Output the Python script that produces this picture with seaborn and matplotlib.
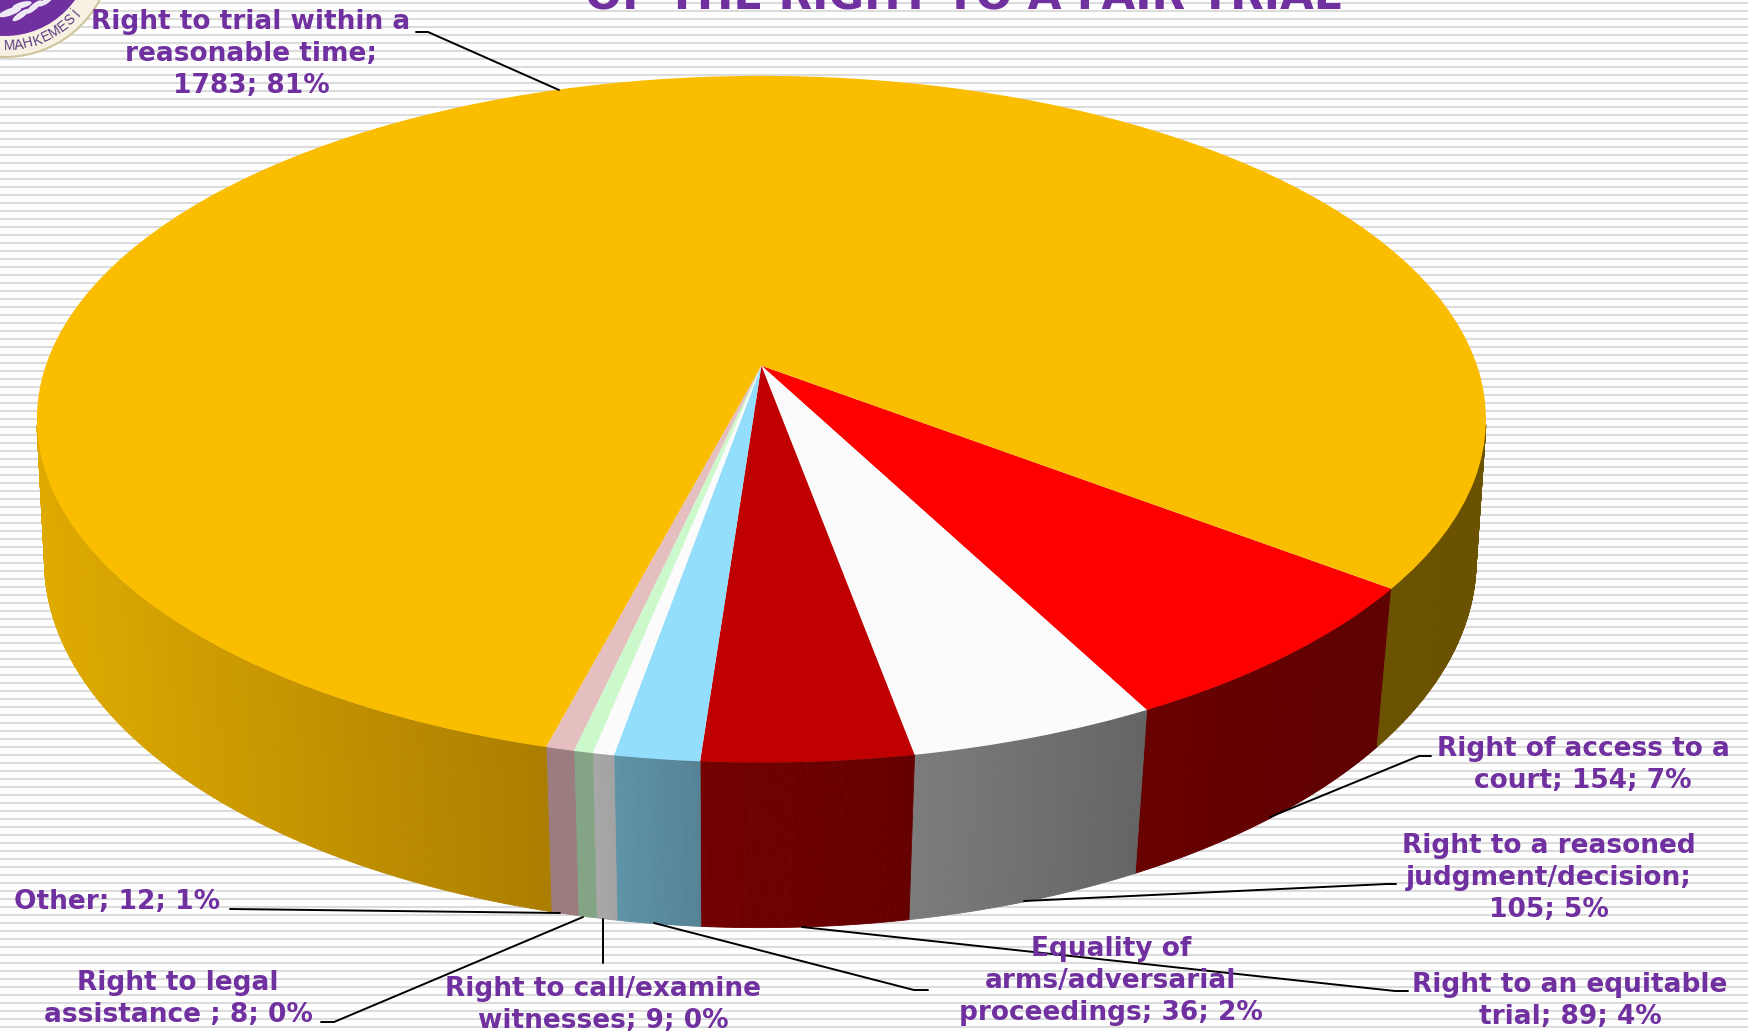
import numpy as np
import matplotlib
matplotlib.use("Agg")
import matplotlib.pyplot as plt
import matplotlib.transforms as mtransforms
from matplotlib.patches import Circle, Ellipse
import seaborn as sns

# Slices, clockwise from the right-hand edge of the big yellow slice
categories = ["Right of access to a court", "Right to a reasoned judgment/decision",
              "Right to an equitable trial", "Equality of arms/adversarial proceedings",
              "Right to call/examine witnesses", "Right to legal assistance", "Other",
              "Right to trial within a reasonable time"]
counts = [154, 105, 89, 36, 9, 8, 12, 1783]
percents = [7, 5, 4, 2, 0, 0, 1, 81]

top_colors = ["#FE0000", "#FBFBFB", "#C00000", "#93DDFD", "#FBFBFB", "#CCF9CC", "#E5BEBF", "#FBBD00"]
# wall colour at left and right end of each slice (yellow wall handled apart)
wall_left = ["#680000", "#7C7C7C", "#720000", "#5F93A8", "#A8A8A8", "#84A585", "#9B7D80", "#AC7E00"]
wall_right = ["#5E0000", "#646464", "#650000", "#568295", "#A2A2A2", "#84A585", "#9B7D80", "#DEAA00"]

# label text, centre and leader line, in picture pixels
label_text = ["Right of access to a\ncourt; 154; 7%",
              "Right to a reasoned\njudgment/decision;\n105; 5%",
              "Right to an equitable\ntrial; 89; 4%",
              "Equality of\narms/adversarial\nproceedings; 36; 2%",
              "Right to call/examine\nwitnesses; 9; 0%",
              "Right to legal\nassistance ; 8; 0%",
              "Other; 12; 1%",
              "Right to trial within a\nreasonable time;\n1783; 81%"]
label_x = [1583, 1549, 1570, 1111, 603, 178, 117, 251]
label_y = [765, 878, 1001, 981, 1005, 999, 902, 54]
leaders = [[(1270, 817), (1419, 756), (1431, 756)],
           [(1024, 901), (1387, 884), (1396, 884)],
           [(802, 927), (1395, 991), (1408, 991)],
           [(654, 923), (914, 990), (928, 990)],
           [(603, 919), (603, 963)],
           [(583, 917), (334, 1022), (321, 1022)],
           [(560, 913), (230, 909)],
           [(559, 90), (428, 32), (416, 32)]]

START_ANGLE = -37.1
PURPLE = "#7030A0"


class Tilt(mtransforms.Transform):
    """Unit circle to picture pixels, with the perspective of the 3D pie."""
    input_dims = 2
    output_dims = 2

    def __init__(self, cx, cy, rx, ry, k):
        super().__init__()
        self.cx, self.cy, self.rx, self.ry, self.k = cx, cy, rx, ry, k

    def transform_non_affine(self, xy):
        xy = np.asarray(xy)
        w = 1 + self.k * xy[:, 1]
        return np.column_stack([self.cx + self.rx * xy[:, 0] / w,
                                self.cy - self.ry * xy[:, 1] / w])


def mix(c1, c2, t):
    a = np.array(matplotlib.colors.to_rgb(c1))
    b = np.array(matplotlib.colors.to_rgb(c2))
    return tuple(a + (b - a) * t)


def main():
    sns.set_theme(style="white")
    fig = plt.figure(figsize=(17.48, 10.33), dpi=100, facecolor="white")
    ax = fig.add_axes([0, 0, 1, 1])

    top = Tilt(761.4, 365.7, 715.7, 335.0, 0.1558)
    bottom = Tilt(760.3, 509.9, 709.0, 360.1, 0.138)

    # Side wall, one thin strip per step; the back of the ring is never seen
    edges = START_ANGLE - np.cumsum([0] + counts) / sum(counts) * 360
    for i in range(len(counts)):
        steps = max(2, int((edges[i] - edges[i + 1]) / 0.25))
        angles = np.radians(np.linspace(edges[i], edges[i + 1], steps + 1))
        ring = np.column_stack([np.cos(angles), np.sin(angles)])
        upper = top.transform_non_affine(ring)
        lower = bottom.transform_non_affine(ring)
        for j in range(steps):
            if ring[j, 1] > -0.17 or ring[j + 1, 1] > -0.17:
                continue
            if i == 7:
                # yellow wall: dark on the right, light fading on the left
                x = upper[j, 0]
                col = "#6B5200" if x > 761 else mix("#DEAA00", "#AC7E00", np.clip((x - 50) / 490, 0, 1))
            else:
                col = mix(wall_right[i], wall_left[i], (j + 0.5) / steps)
            xs = [upper[j, 0], upper[j + 1, 0], lower[j + 1, 0], lower[j, 0]]
            ys = [upper[j, 1], upper[j + 1, 1], lower[j + 1, 1], lower[j, 1]]
            ax.fill(xs, ys, facecolor=col, edgecolor=col, linewidth=0.6, zorder=2)

    # Pie top
    wedges, _ = ax.pie(counts, startangle=START_ANGLE, counterclock=False,
                       colors=sns.color_palette(top_colors),
                       wedgeprops={"linewidth": 0})
    for w in wedges:
        w.set_transform(top + ax.transData)
        w.set_zorder(3)

    ax.set_aspect("auto")
    ax.set_xlim(0, 1748)
    ax.set_ylim(1033, 0)
    ax.axis("off")

    # Striped slide background
    ax.hlines(np.arange(3, 1033, 8), 0, 1748, color="#DCDCDC", linewidth=1.5, zorder=0)

    # Court seal, cut by the corner
    ax.add_patch(Circle((5, -50), 107, facecolor="#F6F1E2", edgecolor="#CFC49B", linewidth=1.5, zorder=4))
    ax.add_patch(Circle((5, -50), 86, facecolor=PURPLE, edgecolor="none", zorder=4))
    for (ex, ey, ew, eh, ea) in [(10, 12, 24, 7, -20), (22, 5, 20, 6, -15), (21, 15, 20, 6, -35),
                                 (34, 7, 20, 6, -40), (45, 2, 16, 5, -30)]:
        ax.add_patch(Ellipse((ex, ey), ew, eh, angle=ea, facecolor="#EFE8F5", edgecolor="none", zorder=5))
    letters = "MAHKEMESİ"
    for k, ch in enumerate(letters):
        a = np.radians(2.4 + k * 5.8)
        ax.text(5 + 96 * np.sin(a), -50 + 96 * np.cos(a), ch, fontsize=10, color="#5A3A80",
                family="Liberation Sans", rotation=np.degrees(a), rotation_mode="anchor",
                ha="center", va="center", zorder=5)

    # Title, cut by the top of the picture
    ax.text(963, 10, "OF THE RIGHT TO A FAIR TRIAL", fontsize=31.4, fontweight="bold",
            color=PURPLE, ha="center", va="baseline", family="DejaVu Sans", zorder=5)

    # Leader lines and labels
    for pts in leaders:
        ax.plot([p[0] for p in pts], [p[1] for p in pts], color="black", linewidth=1.4,
                solid_joinstyle="miter", zorder=5)
    for txt, x, y in zip(label_text, label_x, label_y):
        ax.text(x, y, txt, fontsize=19, fontweight="bold", color=PURPLE, ha="center", va="center",
                linespacing=1.32, multialignment="center", family="DejaVu Sans", zorder=6)

    fig.savefig("out.png", dpi=100)


if __name__ == "__main__":
    main()
